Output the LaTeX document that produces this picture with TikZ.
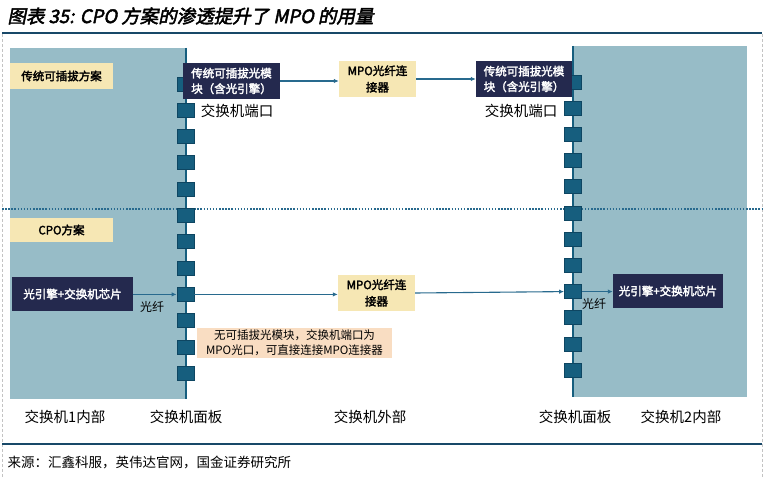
\documentclass[tikz,border=0pt]{standalone}
\usepackage{fontspec}
\setmainfont{Noto Sans CJK SC}[AutoFakeBold=2.5,AutoFakeSlant=0.2]
\usepackage{tikz}
\usetikzlibrary{positioning,arrows.meta}
\definecolor{panelteal}{RGB}{151,188,199}
\definecolor{portblue}{RGB}{22,94,126}
\definecolor{portedge}{RGB}{14,70,98}
\definecolor{wireblue}{RGB}{40,106,142}
\definecolor{navybox}{RGB}{36,41,78}
\definecolor{tagyellow}{RGB}{246,231,180}
\definecolor{notepeach}{RGB}{249,221,194}
\definecolor{framegray}{RGB}{195,195,195}
\definecolor{ruleblue}{RGB}{24,72,104}
\tikzstyle{port} = [rectangle, draw=portedge, fill=portblue, line width=0.8pt,
                    minimum width=17pt, minimum height=14pt, inner sep=0pt]
\tikzstyle{module} = [rectangle, fill=navybox, text=white, align=center,
                      inner sep=0pt, font=\fontsize{11.5}{15.5}\selectfont\bfseries]
\tikzstyle{tag} = [rectangle, fill=tagyellow, align=center,
                   inner sep=0pt, font=\fontsize{11.5}{16.5}\selectfont\bfseries]
\tikzstyle{note} = [rectangle, fill=notepeach, align=center,
                    inner sep=0pt, font=\fontsize{11.5}{15}\selectfont]
\tikzstyle{caption} = [font=\fontsize{14.5}{17}\selectfont]
\tikzstyle{fiber} = [font=\fontsize{12}{14}\selectfont]
\tikzstyle{arrow} = [-{Latex[length=5pt,width=4.5pt]}, line width=1.1pt, draw=wireblue]

\begin{document}
\begin{tikzpicture}[x=1pt,y=-1pt]
    \useasboundingbox (0,0) rectangle (764,478);

    % Frame and title
    \draw[framegray, densely dashed, line width=0.6pt] (2,34) -- (2,478) (762,34) -- (762,478);
    \node[anchor=west, font=\fontsize{18.5}{20}\selectfont\bfseries\itshape] (title) at (4,16)
        {图表 35: CPO 方案的渗透提升了 MPO 的用量};
    \draw[ruleblue, line width=1.3pt] (2,33) -- (762,33);

    % Switch interiors
    \fill[panelteal] (10,48) rectangle (186,399);
    \fill[panelteal] (572,46) rectangle (747,397);
    \draw[portblue, line width=2pt] (185.5,48) -- (185.5,399);
    \draw[portblue, line width=2pt] (573,46) -- (573,397);

    % Divider between the two schemes
    \draw[wireblue, line width=1.5pt, dash pattern=on 1.5pt off 1.6pt] (2,209) -- (762,209);

    % Panel ports
    \foreach \i in {1,...,12} {
        \node[port] (pl\i) at (185.5,{84+26.3*(\i-1)}) {};
        \node[port] (pr\i) at (573,{82+26.2*(\i-1)}) {};
    }

    % Pluggable scheme
    \node[tag, minimum width=103pt, minimum height=26pt] (schemeA) at (61.5,76) {传统可插拔方案};
    \node[module, minimum width=97pt, minimum height=36pt] (modL) at (231.5,81) {传统可插拔光模\\块（含光引擎）};
    \node[tag, minimum width=77pt, minimum height=36pt] (mpoT) at (377.5,79) {MPO光纤连\\接器};
    \node[module, minimum width=96pt, minimum height=36pt] (modR) at (524,79) {传统可插拔光模\\块（含光引擎）};
    \node[caption] (portL) at (237,111) {交换机端口};
    \node[caption] (portR) at (521,111) {交换机端口};
    \draw[arrow] (modL.east) -- (modL.east -| mpoT.west);
    \draw[arrow] (mpoT.east) -- (mpoT.east -| modR.west);

    % CPO scheme
    \node[tag, minimum width=103pt, minimum height=24pt] (schemeB) at (61.5,230) {CPO方案};
    \node[module, minimum width=121pt, minimum height=34pt] (cpoL) at (72.5,294) {光引擎+交换机芯片};
    \node[tag, minimum width=77pt, minimum height=36pt] (mpoB) at (376.5,293) {MPO光纤连\\接器};
    \node[module, minimum width=110pt, minimum height=34pt] (cpoR) at (668,291) {光引擎+交换机芯片};
    \node[fiber] (fibL) at (152,307) {光纤};
    \node[fiber] (fibR) at (594,304) {光纤};
    \node[note, minimum width=195pt, minimum height=30pt] (note) at (294.5,343)
        {无可插拔光模块，交换机端口为\\MPO光口，可直接连接MPO连接器};
    \draw[arrow] (cpoL.east |- pl9) -- (pl9.west);
    \draw[arrow] (pl9.east) -- (pl9.east -| mpoB.west);
    \draw[arrow] (mpoB.east) -- (pr9.west);
    \draw[arrow] (pr9.east) -- (pr9.east -| cpoR.west);

    % Bottom captions
    \node[caption] (inner1) at (65,417) {交换机1内部};
    \node[caption] (panel1) at (186,417) {交换机面板};
    \node[caption] (outside) at (370,417) {交换机外部};
    \node[caption] (panel2) at (575,417) {交换机面板};
    \node[caption] (inner2) at (681,417) {交换机2内部};

    % Source
    \draw[ruleblue, line width=1.2pt] (2,444) -- (762,444);
    \node[anchor=west, font=\fontsize{13.5}{15}\selectfont] (source) at (4,462)
        {来源：汇鑫科服，英伟达官网，国金证券研究所};
\end{tikzpicture}
\end{document}
